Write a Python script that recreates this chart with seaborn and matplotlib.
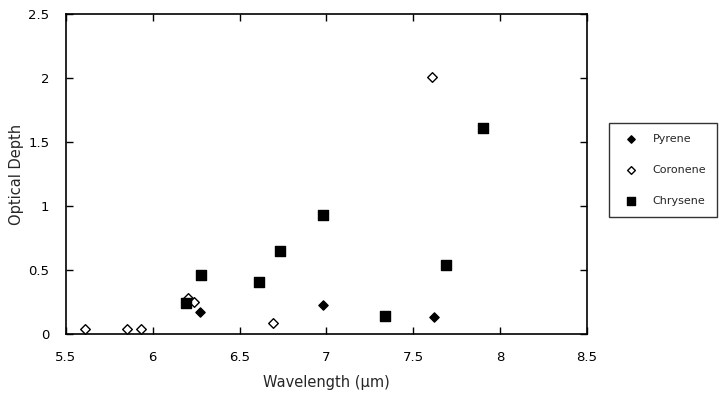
import pandas as pd
import matplotlib
matplotlib.use("Agg")
import matplotlib.pyplot as plt
import seaborn as sns

# Data
pyrene_x = [6.27, 6.98, 7.62]
pyrene_y = [0.17, 0.23, 0.13]

coronene_x = [5.61, 5.85, 5.93, 6.20, 6.24, 6.69, 7.61]
coronene_y = [0.04, 0.04, 0.04, 0.28, 0.25, 0.09, 2.01]

chrysene_x = [6.19, 6.28, 6.61, 6.73, 6.98, 7.34, 7.69, 7.90]
chrysene_y = [0.24, 0.46, 0.41, 0.65, 0.93, 0.14, 0.54, 1.61]

x_ticks = [5.5, 6, 6.5, 7, 7.5, 8, 8.5]
y_ticks = [0, 0.5, 1, 1.5, 2, 2.5]

sns.set_style("ticks")
plt.rcParams['font.family'] = ['DejaVu Sans']

fig = plt.figure(figsize=(7.21, 3.94), dpi=100)
ax = fig.add_axes([0.0915, 0.152, 0.7225, 0.812])

series = [
    ("Pyrene", pyrene_x, pyrene_y, "D", "black", 22),
    ("Coronene", coronene_x, coronene_y, "D", "white", 24),
    ("Chrysene", chrysene_x, chrysene_y, "s", "black", 48),
]

for name, xs, ys, mk, fc, sz in series:
    df = pd.DataFrame({"x": xs, "y": ys})
    sns.scatterplot(data=df, x="x", y="y", marker=mk, s=sz, color=fc,
                    edgecolor="black", linewidth=1.0, label=name, ax=ax, zorder=3)

ax.set_xlim(5.5, 8.5)
ax.set_ylim(0, 2.5)
ax.set_xticks(x_ticks)
ax.set_xticklabels([f"{t:g}" for t in x_ticks])
ax.set_yticks(y_ticks)
ax.set_yticklabels([f"{t:g}" for t in y_ticks])
ax.tick_params(direction="in", top=True, right=True, length=5, width=1,
               labelsize=9.5, colors="black")
ax.tick_params(axis="x", pad=12)
ax.tick_params(axis="y", pad=12)
for sp in ax.spines.values():
    sp.set_visible(True)
    sp.set_linewidth(1.2)
    sp.set_color("black")

ax.set_xlabel("Wavelength (\u03bcm)", fontsize=10.5, labelpad=8)
ax.set_ylabel("Optical Depth", fontsize=10.5, labelpad=3)

leg = ax.legend(loc="upper left", bbox_to_anchor=(0.845, 0.688),
                bbox_transform=fig.transFigure, borderaxespad=0, fontsize=8,
                frameon=True, fancybox=False, edgecolor="black", borderpad=1.0,
                labelspacing=1.9, handletextpad=0.9, markerscale=0.8)
leg.get_frame().set_linewidth(1.0)

fig.savefig("out.png", dpi=100)
